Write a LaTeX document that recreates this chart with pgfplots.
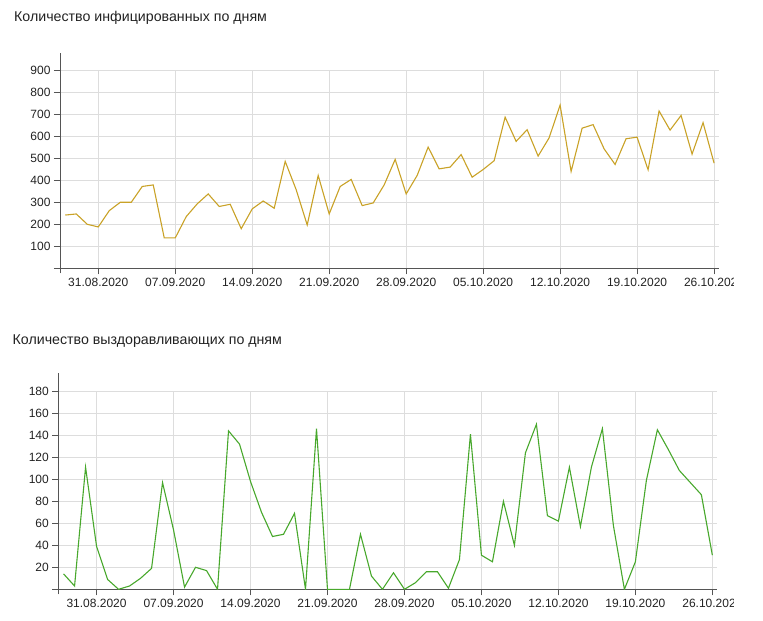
\documentclass[border=0pt]{standalone}
\usepackage{fontspec}
\setmainfont{Liberation Sans}
\usepackage{pgfplots}
\pgfplotsset{compat=1.18}
\usepackage{pgfplotstable}
\definecolor{gold}{HTML}{C9A227}
\definecolor{grn}{HTML}{48A82C}
\definecolor{gridc}{HTML}{DDDDDD}
\definecolor{axc}{HTML}{555555}
\definecolor{txt}{HTML}{222222}

\pgfplotstableread{
d v
0 242
1 247
2 200
3 188
4 262
5 300
6 300
7 372
8 379
9 138
10 138
11 235
12 293
13 338
14 281
15 291
16 180
17 270
18 306
19 273
20 486
21 357
22 197
23 422
24 247
25 372
26 404
27 285
28 297
29 379
30 495
31 338
32 422
33 551
34 452
35 460
36 517
37 414
38 449
39 489
40 687
41 577
42 630
43 510
44 593
45 742
46 440
47 637
48 653
49 543
50 472
51 589
52 596
53 448
54 715
55 628
56 695
57 519
58 662
59 478
}\infected

\pgfplotstableread{
d v
0 14
1 3
2 111
3 39
4 9
5 0
6 3
7 10
8 19
9 97
10 54
11 2
12 20
13 17
14 0
15 144
16 132
17 98
18 70
19 48
20 50
21 69
22 0
23 146
24 0
25 0
26 0
27 50
28 12
29 0
30 15
31 0
32 6
33 16
34 16
35 1
36 27
37 141
38 31
39 25
40 80
41 40
42 124
43 150
44 67
45 62
46 111
47 57
48 111
49 146
50 58
51 0
52 25
53 99
54 145
55 127
56 108
57 97
58 86
59 31
}\recovered

\pgfplotsset{
  myaxis/.style={
    scale only axis, width=659bp, height=198bp,
    anchor=south west,
    axis lines=left,
    axis line style={-, draw=axc, line width=1bp},
    x axis line style={shorten <=-6bp},
    xmin=-0.48, xmax=59.45, ymin=0,
    xtick={3,10,...,59},
    xticklabels={31.08.2020,07.09.2020,14.09.2020,21.09.2020,28.09.2020,05.10.2020,12.10.2020,19.10.2020,26.10.2020},
    tick align=outside, major tick length=6bp,
    tick style={draw=axc, line width=1bp},
    grid=major, major grid style={draw=gridc, line width=1bp},
    ticklabel style={font=\fontsize{12bp}{14bp}\selectfont, text=txt},
    /pgf/number format/assume math mode=true,
  }
}

\begin{document}
\begin{tikzpicture}
\useasboundingbox (0,0) rectangle (763bp,621bp);
\clip (0,0) rectangle (733bp,621bp);

\node[anchor=base west, inner sep=0, font=\fontsize{14.2bp}{16bp}\selectfont, text=txt] at (14bp,599bp) {Количество инфицированных по дням};
\node[anchor=base west, inner sep=0, font=\fontsize{14.2bp}{16bp}\selectfont, text=txt] at (12.5bp,276.3bp) {Количество выздоравливающих по дням};

\begin{axis}[myaxis, at={(60bp,352.7bp)}, ymax=900,
  ytick={100,200,...,900},
  y axis line style={shorten >=-17bp, shorten <=-5bp}]
\addplot[gold, line width=1.1bp] table[x=d, y=v] {\infected};
\end{axis}

\begin{axis}[myaxis, at={(58.3bp,31.7bp)}, ymax=180,
  ytick={20,40,...,180},
  y axis line style={shorten >=-18bp, shorten <=-5bp}]
\addplot[grn, line width=1.1bp] table[x=d, y=v] {\recovered};
\end{axis}
\end{tikzpicture}
\end{document}
